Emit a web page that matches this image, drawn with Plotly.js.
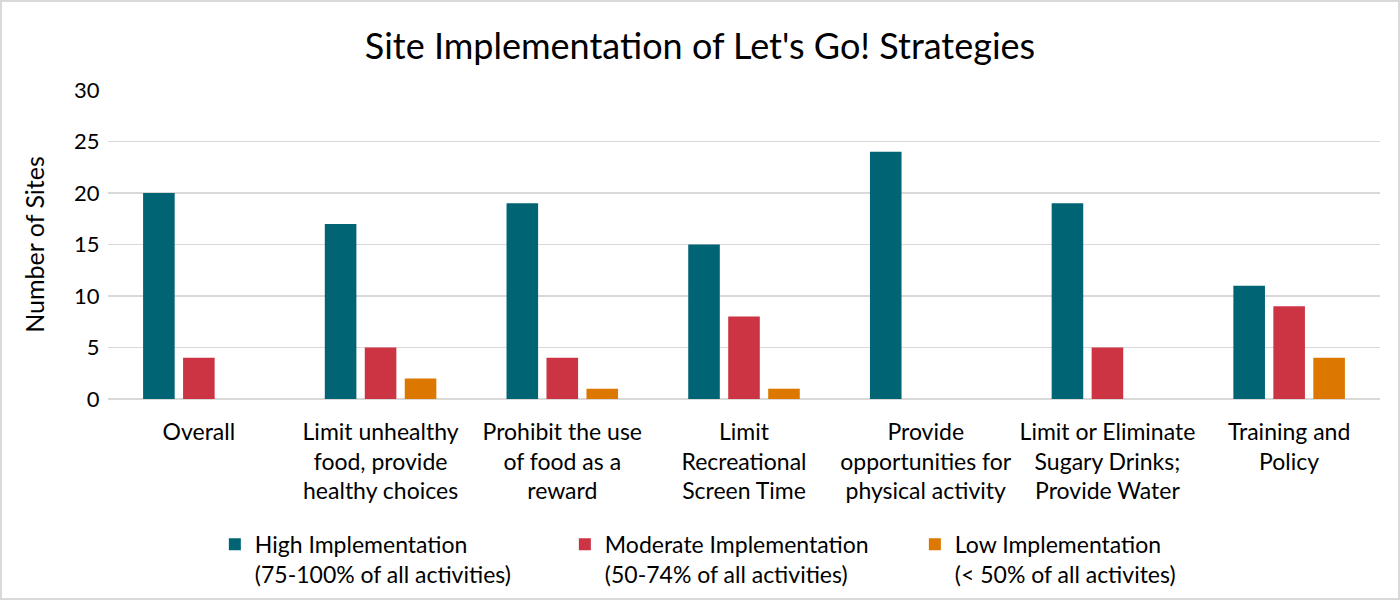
<!DOCTYPE html>
<html>
<head>
<meta charset="utf-8">
<script src="https://cdn.plot.ly/plotly-3.0.1.min.js"></script>
<style>
  html, body { margin: 0; padding: 0; background: #fff; }
  #chart { width: 1396px; height: 596px; border: 2px solid #d9d9d9; }
</style>
</head>
<body>
<div id="chart"></div>
<script>
// ─── Data ───
const categories = [
  "Overall",
  "Limit unhealthy<br>food, provide<br>healthy choices",
  "Prohibit the use<br>of food as a<br>reward",
  "Limit<br>Recreational<br>Screen Time",
  "Provide<br>opportunities for<br>physical activity",
  "Limit or Eliminate<br>Sugary Drinks;<br>Provide Water",
  "Training and<br>Policy",
];
const highImpl = [20, 17, 19, 15, 24, 19, 11];
const moderateImpl = [4, 5, 4, 8, 0, 5, 9];
const lowImpl = [0, 2, 1, 1, 0, 0, 4];

const seriesNames = [
  "High Implementation<br>(75-100% of all activities)",
  "Moderate Implementation<br>(50-74% of all activities)",
  "Low Implementation<br>(< 50% of all activites)",
];
const seriesColors = ["#006474", "#cc3343", "#dc7800"];

const font = "Lato, 'Open Sans', sans-serif";

const traces = [highImpl, moderateImpl, lowImpl].map((vals, i) => ({
  x: categories,
  y: vals,
  type: "bar",
  name: seriesNames[i],
  marker: { color: seriesColors[i] },
  hoverinfo: "y+name",
}));

Plotly.newPlot(
  "chart",
  traces,
  {
    width: 1396,
    height: 596,
    paper_bgcolor: "#fff",
    plot_bgcolor: "#fff",
    font: { family: font, size: 22, color: "#000" },
    margin: { l: 106, r: 18, t: 88, b: 199 },
    title: {
      text: "Site Implementation of Let's Go! Strategies",
      font: { family: font, size: 36, color: "#000" },
      x: 0.5,
      xanchor: "center",
      y: 0.925,
      yanchor: "middle",
    },
    barmode: "group",
    bargap: 0.34,
    bargroupgap: 0.21,
    xaxis: {
      tickfont: { family: font, size: 23, color: "#000" },
      showgrid: false,
      showline: false,
      ticks: "outside",
      ticklen: 12,
      tickcolor: "rgba(0,0,0,0)",
      automargin: false,
      fixedrange: true,
    },
    yaxis: {
      range: [0, 30],
      dtick: 5,
      tickfont: { family: font, size: 22, color: "#000" },
      gridcolor: "#d9d9d9",
      gridwidth: 1.5,
      zeroline: true,
      zerolinecolor: "#d9d9d9",
      zerolinewidth: 1.5,
      ticks: "outside",
      ticklen: 3,
      tickcolor: "rgba(0,0,0,0)",
      title: { text: "Number of Sites", font: { family: font, size: 25, color: "#000" }, standoff: 22 },
      automargin: false,
      fixedrange: true,
    },
    legend: {
      orientation: "h",
      x: 0.084,
      xanchor: "left",
      yref: "container",
      y: 0.126,
      yanchor: "top",
      valign: "top",
      font: { family: font, size: 23, color: "#000" },
      traceorder: "normal",
      itemwidth: 30,
      entrywidth: 305,
    },
    showlegend: true,
  },
  { displayModeBar: false, staticPlot: true },
);
</script>
</body>
</html>
